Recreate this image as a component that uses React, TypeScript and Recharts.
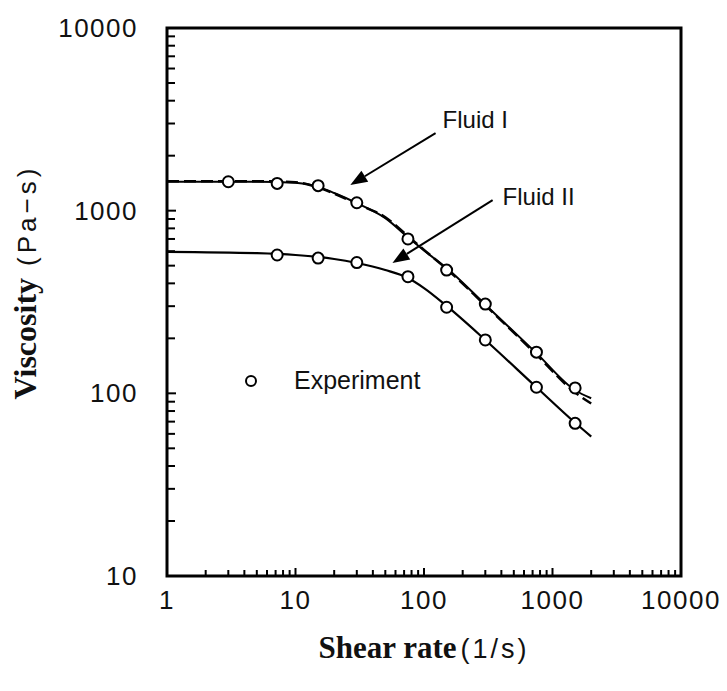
import { ComposedChart, Line, Scatter, XAxis, YAxis, ReferenceArea, ReferenceLine, Legend } from 'recharts';

// shear rate (1/s) used for the model curves
const lineRate = [1, 5, 10, 15, 20, 30, 50, 75, 100, 150, 300, 750, 1500, 2000];
const fluid1Model = [1440, 1440, 1420, 1350, 1250, 1100, 910, 715, 605, 485, 306, 166, 104, 94];
const fluid1Fit = [1450, 1450, 1430, 1340, 1240, 1090, 920, 725, 610, 480, 303, 163, 101, 88];
const fluid2Model = [595, 585, 572, 558, 544, 517, 473, 428, 377, 301, 196, 108, 69, 58];

// experiment points
const expRate1 = [3, 7.2, 15, 30, 75, 150, 300, 750, 1500];
const expFluid1 = [1440, 1410, 1370, 1105, 700, 473, 308, 168, 107];
const expRate2 = [7.2, 15, 30, 75, 150, 300, 750, 1500];
const expFluid2 = [572, 550, 520, 435, 296, 196, 108, 68.5];

const xMajor = [1, 10, 100, 1000, 10000];
const yMajor = [10, 100, 1000, 10000];
const minorSteps = [2, 3, 4, 5, 6, 7, 8, 9];

// arrow annotations: label, start, tip in data units
const fluid1Arrow = { label: 'Fluid I', from: { x: 123, y: 2660 }, to: { x: 26.7, y: 1380 } };
const fluid2Arrow = { label: 'Fluid II', from: { x: 342, y: 1143 }, to: { x: 56.8, y: 517 } };

const withMinors = (majors: number[]) => {
  const out: number[] = [];
  majors.forEach((m, i) => {
    out.push(m);
    if (i < majors.length - 1) minorSteps.forEach(s => out.push(m * s));
  });
  return out;
};
const xTicks = withMinors(xMajor);
const yTicks = withMinors(yMajor);

const toPoints = (xs: number[], ys: number[]) => xs.map((x, i) => ({ x, y: ys[i] }));

const SANS = "'Liberation Sans', Arial, sans-serif";
const SERIF = "'Liberation Serif', 'Times New Roman', serif";

function XTick({ x, y, payload }: any) {
  const major = xMajor.includes(payload.value);
  return (
    <g>
      <line x1={x} x2={x} y1={y} y2={y - (major ? 8 : 6)} stroke="#000" strokeWidth={2} />
      {major && (
        <text x={x} y={y + 33} textAnchor="middle" fontFamily={SANS} fontSize={26} letterSpacing={1.5} fill="#111">
          {payload.value}
        </text>
      )}
    </g>
  );
}

function YTick({ x, y, payload }: any) {
  const major = yMajor.includes(payload.value);
  return (
    <g>
      <line x1={x} x2={x + (major ? 9 : 8)} y1={y} y2={y} stroke="#000" strokeWidth={2} />
      {major && (
        <text x={x - 29} y={y + 9} textAnchor="end" fontFamily={SANS} fontSize={26} letterSpacing={1.5} fill="#111">
          {payload.value}
        </text>
      )}
    </g>
  );
}

function Circle({ cx, cy }: any) {
  return <circle cx={cx} cy={cy} r={5.5} fill="#fff" stroke="#000" strokeWidth={2} />;
}

function arrowShape(label: string, dx: number, dy: number) {
  return (p: any) => {
    const { x1, y1, x2, y2 } = p;
    const ang = Math.atan2(y2 - y1, x2 - x1);
    const len = 17;
    const half = 6.5;
    const bx = x2 - len * Math.cos(ang);
    const by = y2 - len * Math.sin(ang);
    const nx = -Math.sin(ang) * half;
    const ny = Math.cos(ang) * half;
    return (
      <g>
        <line x1={x1} y1={y1} x2={bx} y2={by} stroke="#000" strokeWidth={2} />
        <polygon points={`${x2},${y2} ${bx + nx},${by + ny} ${bx - nx},${by - ny}`} fill="#000" />
        <text x={x1 + dx} y={y1 + dy} fontFamily={SANS} fontSize={24} fill="#111">{label}</text>
      </g>
    );
  };
}

function XTitle({ viewBox }: any) {
  const cx = viewBox.x + viewBox.width / 2;
  return (
    <text x={cx} y={658} textAnchor="middle" fill="#111">
      <tspan fontFamily={SERIF} fontWeight="bold" fontSize={31}>Shear rate</tspan>
      <tspan dx={4} fontFamily={SANS} fontSize={27} letterSpacing={3}>(1/s)</tspan>
    </text>
  );
}

function YTitle() {
  const cy = 282;
  return (
    <text x={36} y={cy} transform={`rotate(-90, 36, ${cy})`} textAnchor="middle" fill="#111">
      <tspan fontFamily={SERIF} fontWeight="bold" fontSize={32}>Viscosity</tspan>
      <tspan dx={12} fontFamily={SANS} fontSize={26} letterSpacing={4}>(Pa−s)</tspan>
    </text>
  );
}

function ExperimentLegend() {
  return (
    <div style={{ display: 'flex', alignItems: 'center', fontFamily: SANS, fontSize: 25, color: '#111' }}>
      <svg width={14} height={14}>
        <circle cx={7} cy={7} r={5} fill="#fff" stroke="#000" strokeWidth={2} />
      </svg>
      <span style={{ marginLeft: 36 }}>Experiment</span>
    </div>
  );
}

export default function App() {
  return (
    <div style={{ position: 'absolute', left: 0, top: 0 }}>
      <ComposedChart width={727} height={691} margin={{ top: 28, right: 46, bottom: 55, left: 107 }}>
        <XAxis
          dataKey="x"
          type="number"
          scale="log"
          domain={[1, 10000]}
          ticks={xTicks}
          interval={0}
          allowDataOverflow
          axisLine={false}
          tickLine={false}
          tickSize={0}
          tickMargin={0}
          tick={<XTick />}
          height={60}
          label={<XTitle />}
        />
        <YAxis
          dataKey="y"
          type="number"
          scale="log"
          domain={[10, 10000]}
          ticks={yTicks}
          interval={0}
          allowDataOverflow
          axisLine={false}
          tickLine={false}
          tickSize={0}
          tickMargin={0}
          tick={<YTick />}
          width={60}
          label={<YTitle />}
        />
        <ReferenceArea x1={1} x2={10000} y1={10} y2={10000} fill="none" stroke="#000" strokeWidth={3} fillOpacity={0} />

        <Line data={toPoints(lineRate, fluid1Fit)} dataKey="y" type="monotone" stroke="#000" strokeWidth={2.5}
          strokeDasharray="12 5" dot={false} isAnimationActive={false} />
        <Line data={toPoints(lineRate, fluid1Model)} dataKey="y" type="monotone" stroke="#000" strokeWidth={2}
          dot={false} isAnimationActive={false} />
        <Line data={toPoints(lineRate, fluid2Model)} dataKey="y" type="monotone" stroke="#000" strokeWidth={2.2}
          dot={false} isAnimationActive={false} />

        <Scatter data={toPoints(expRate1, expFluid1)} dataKey="y" shape={<Circle />} isAnimationActive={false} />
        <Scatter data={toPoints(expRate2, expFluid2)} dataKey="y" shape={<Circle />} isAnimationActive={false} />

        <ReferenceLine segment={[fluid1Arrow.from, fluid1Arrow.to]} ifOverflow="visible"
          shape={arrowShape(fluid1Arrow.label, 7, -5)} />
        <ReferenceLine segment={[fluid2Arrow.from, fluid2Arrow.to]} ifOverflow="visible"
          shape={arrowShape(fluid2Arrow.label, 10, 5)} />

        <Legend layout="horizontal" verticalAlign="middle" align="center"
          wrapperStyle={{ left: 244, top: 366, width: 'auto' }} content={<ExperimentLegend />} />
      </ComposedChart>
    </div>
  );
}
